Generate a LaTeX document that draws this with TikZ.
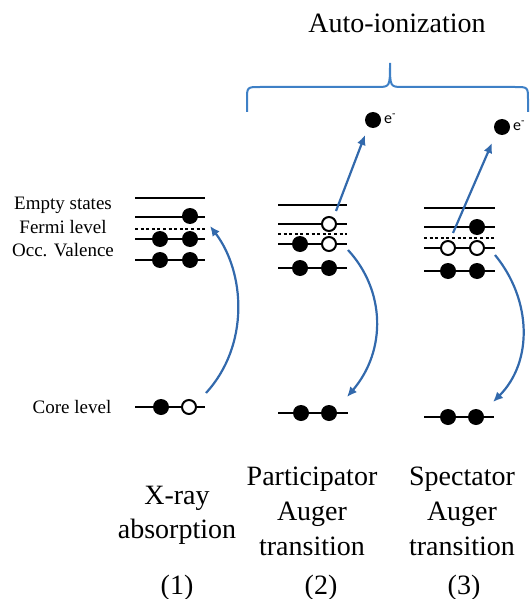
\documentclass[tikz,border=0pt]{standalone}
\usepackage{fontspec}
\setmainfont{Liberation Serif}
\newfontfamily\esans{Carlito}
\usetikzlibrary{arrows.meta}
\definecolor{arrowblue}{RGB}{50,105,172}
\definecolor{braceblue}{RGB}{62,128,198}
\tikzset{
  lvl/.style={line width=2.6pt},
  fermi/.style={line width=2.6pt, dash pattern=on 3pt off 2.6pt},
  el/.style={circle, fill=black, inner sep=0pt, minimum size=16pt},
  hole/.style={circle, draw=black, fill=white, line width=2pt, inner sep=0pt, minimum size=14pt},
  arr/.style={draw=arrowblue, line width=2.2pt, -{Latex[length=10pt,width=9pt]}},
  bigtxt/.style={anchor=base, inner sep=0pt, font=\fontsize{28}{34}\selectfont},
  smalltxt/.style={anchor=base, inner sep=0pt, font=\fontsize{19}{23}\selectfont},
  etxt/.style={anchor=west, inner sep=0pt, font=\esans\fontsize{16}{18}\selectfont},
}
\begin{document}
\begin{tikzpicture}[x=1pt,y=-1pt]
\useasboundingbox (0,0) rectangle (531,599);

% ---- title and brace
\node[bigtxt] (title) at (397,33) {Auto-ionization};
\draw[draw=braceblue, line width=2pt]
  (247,112) -- (247,100) .. controls (247,87) .. (260,87) -- (377,87)
  .. controls (390,87) .. (390,63) .. controls (390,87) .. (403,87)
  -- (515,87) .. controls (528,87) .. (528,100) -- (528,112);

% ---- left labels
\node[smalltxt] (lEmpty) at (63,209) {Empty states};
\node[smalltxt] (lFermi) at (63,233) {Fermi level};
\node[smalltxt] (lOcc) at (63,256) {Occ. Valence};
\node[smalltxt] (lCore) at (72,413) {Core level};

% ---- panel 1
\draw[lvl] (135,198) -- (205,198);
\draw[lvl] (135,217) -- (205,217);
\draw[fermi] (135,229) -- (205,229);
\draw[lvl] (135,239) -- (205,239);
\draw[lvl] (135,260) -- (205,260);
\draw[lvl] (135,407) -- (205,407);
\node[el] (a2) at (190,216) {};
\node[el] (a3a) at (160,239) {};
\node[el] (a3b) at (190,239) {};
\node[el] (a4a) at (160,260) {};
\node[el] (a4b) at (190,260) {};
\node[el] (ac1) at (161,407) {};
\node[hole] (ac2) at (189,407) {};

% ---- panel 2
\draw[lvl] (278,205) -- (347,205);
\draw[lvl] (278,224) -- (347,224);
\draw[fermi] (278,234) -- (347,234);
\draw[lvl] (278,244) -- (347,244);
\draw[lvl] (278,268) -- (347,268);
\draw[lvl] (278,413) -- (348,413);
\node[hole] (b2) at (329,224) {};
\node[el] (b3a) at (300,244) {};
\node[hole] (b3b) at (329,244) {};
\node[el] (b4a) at (300,268) {};
\node[el] (b4b) at (329,268) {};
\node[el] (bc1) at (301,413) {};
\node[el] (bc2) at (329,413) {};
\node[el] (be) at (373,120) {};
\node[etxt] (bet) at (384,119) {e\textsuperscript{-}};

% ---- panel 3
\draw[lvl] (424,208) -- (495,208);
\draw[lvl] (424,227) -- (495,227);
\draw[fermi] (424,238) -- (495,238);
\draw[lvl] (424,248) -- (495,248);
\draw[lvl] (424,271) -- (495,271);
\draw[lvl] (424,417) -- (494,417);
\node[el] (c2) at (477,227) {};
\node[hole] (c3a) at (448,248) {};
\node[hole] (c3b) at (477,248) {};
\node[el] (c4a) at (448,271) {};
\node[el] (c4b) at (477,271) {};
\node[el] (cc1) at (448,417) {};
\node[el] (cc2) at (476,417) {};
\node[el] (ce) at (502,127) {};
\node[etxt] (cet) at (513,126) {e\textsuperscript{-}};

% ---- arrows
\coordinate (p1s) at (206,393);
\coordinate (p1e) at (210,226);
\draw[arr] (p1s) .. controls (250,345) and (245,272) .. (p1e);
\coordinate (p2s) at (348,250);
\coordinate (p2e) at (347,397);
\draw[arr] (p2s) .. controls (385,290) and (387,350) .. (p2e);
\coordinate (p3s) at (495,255);
\coordinate (p3e) at (493,402);
\draw[arr] (p3s) .. controls (532,300) and (533,362) .. (p3e);
\coordinate (q2s) at (336,211);
\coordinate (q2e) at (365,135);
\draw[arr] (q2s) -- (q2e);
\coordinate (q3s) at (453,233);
\coordinate (q3e) at (492,143);
\draw[arr] (q3s) -- (q3e);

% ---- bottom captions
\node[bigtxt] (t1a) at (177,504) {X-ray};
\node[bigtxt] (t1b) at (177,538) {absorption};
\node[bigtxt] (t2a) at (312,485) {Participator};
\node[bigtxt] (t2b) at (312,520) {Auger};
\node[bigtxt] (t2c) at (312,555) {transition};
\node[bigtxt] (t3a) at (462,485) {Spectator};
\node[bigtxt] (t3b) at (462,520) {Auger};
\node[bigtxt] (t3c) at (462,555) {transition};
\node[bigtxt] (n1) at (177,594) {(1)};
\node[bigtxt] (n2) at (321,594) {(2)};
\node[bigtxt] (n3) at (464,594) {(3)};
\end{tikzpicture}
\end{document}
